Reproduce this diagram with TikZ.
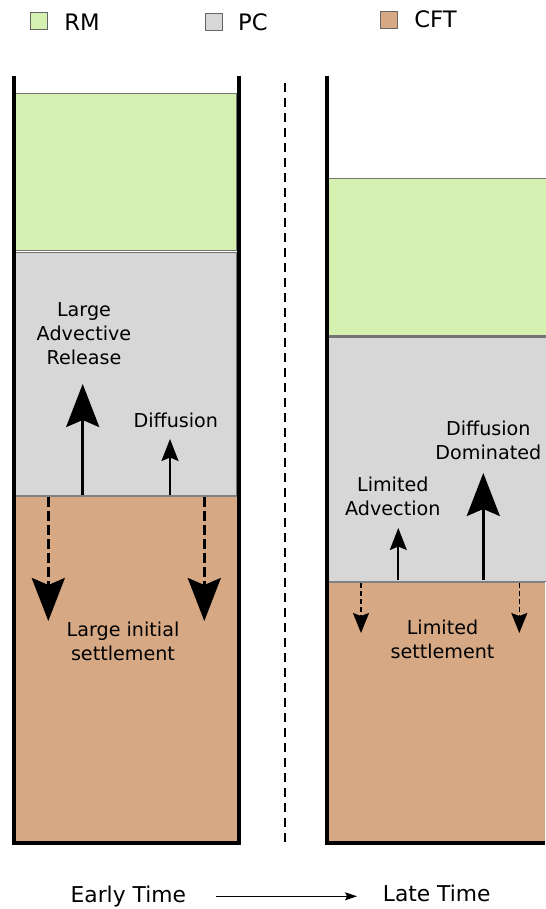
\documentclass[tikz,border=0pt]{standalone}
\usepackage{fontspec}
\setmainfont{DejaVu Sans}
\usepackage{xcolor}
\usetikzlibrary{arrows.meta}

\definecolor{rmgreen}{HTML}{D5F0B0}
\definecolor{pcgray}{HTML}{D7D7D7}
\definecolor{cftbrown}{HTML}{D6A884}

\tikzset{
  wall/.style={line width=0.08cm, line join=miter},
  layer/.style={draw=black!55, line width=0.03cm},
  iface/.style={draw=black!50, line width=0.055cm},
  bigtip/.style={-{Stealth[length=0.86cm, width=0.66cm, inset=0.14cm]}, line width=0.06cm},
  smalltip/.style={-{Stealth[length=0.44cm, width=0.34cm, inset=0.07cm]}, line width=0.04cm},
  tinytip/.style={-{Stealth[length=0.4cm, width=0.32cm, inset=0.06cm]}, line width=0.03cm},
  legbox/.style={draw=black!60, line width=0.5pt, minimum size=0.34cm, inner sep=0pt},
  legtext/.style={font=\fontsize{12.9}{15}\selectfont, inner sep=0pt, anchor=west},
  label/.style={font=\fontsize{10.9}{13.7}\selectfont, align=center, inner sep=0pt},
  timetext/.style={font=\fontsize{12.4}{15}\selectfont, inner sep=0pt},
}

\begin{document}
\begin{tikzpicture}[x=0.02cm, y=-0.02cm]
  \useasboundingbox (0,0) rectangle (545,909);
  % legend
  \node[legbox, fill=rmgreen] (keyRM) at (39,21.4) {};
  \node[legtext] (txtRM) at (64,22) {RM};
  \node[legbox, fill=pcgray] (keyPC) at (214,21.5) {};
  \node[legtext] (txtPC) at (237.8,22) {PC};
  \node[legbox, fill=cftbrown] (keyCFT) at (388.5,19.5) {};
  \node[legtext] (txtCFT) at (414,19.5) {CFT};

  % early time column
  \filldraw[layer, fill=rmgreen] (15.7,93.3) rectangle (236.7,250.5);
  \filldraw[layer, fill=pcgray] (15.7,252.3) rectangle (236.7,495.5);
  \fill[cftbrown] (15.7,495.5) rectangle (236.7,843);
  \draw[iface] (15.7,496) -- (236.7,496);
  \draw[wall] (13.7,76.5) |- (238.7,843) -- (238.7,76.5);

  % late time column
  \filldraw[layer, fill=rmgreen] (328.7,178.3) rectangle (547,335.5);
  \filldraw[layer, fill=pcgray] (328.7,337) rectangle (547,581.5);
  \fill[cftbrown] (328.7,581.5) rectangle (545,843);
  \draw[iface] (328.7,582) -- (545,582);
  \draw[wall] (326.7,76) |- (545,843);

  % divider
  \draw[line width=0.05cm, dash pattern=on 0.18cm off 0.12cm] (285,83) -- (285,842);

  % early time fluxes
  \coordinate (advBase) at (82.7,495);
  \coordinate (advTip) at (82.7,384);
  \draw[bigtip] (advBase) -- (advTip);
  \coordinate (difBase) at (170,495);
  \coordinate (difTip) at (170,439);
  \draw[smalltip] (difBase) -- (difTip);
  \foreach \x [count=\i] in {48.3,204.3} {
    \coordinate (setTop\i) at (\x,497);
    \coordinate (setTip\i) at (\x,621);
    \draw[bigtip, dash pattern=on 0.2cm off 0.08cm] (setTop\i) -- (setTip\i);
  }
  \node[label] (advEarly) at (84,333.5) {Large\\Advective\\Release};
  \node[label] (difEarly) at (175.8,420.7) {Diffusion};
  \node[label] (setEarly) at (123,641.7) {Large initial\\settlement};

  % late time fluxes
  \coordinate (advBaseL) at (398.3,580);
  \coordinate (advTipL) at (398.3,528);
  \draw[smalltip] (advBaseL) -- (advTipL);
  \coordinate (difBaseL) at (483.3,580);
  \coordinate (difTipL) at (483.3,473);
  \draw[bigtip] (difBaseL) -- (difTipL);
  \foreach \x [count=\i] in {361,519.3} {
    \coordinate (setTopL\i) at (\x,583);
    \coordinate (setTipL\i) at (\x,633);
    \draw[tinytip, dash pattern=on 0.1cm off 0.06cm] (setTopL\i) -- (setTipL\i);
  }
  \node[label] (advLate) at (392.8,496.4) {Limited\\Advection};
  \node[label] (difLate) at (488.3,440.5) {Diffusion\\Dominated};
  \node[label] (setLate) at (442.5,639.5) {Limited\\settlement};

  % time axis
  \node[timetext] (early) at (128.3,896.3) {Early Time};
  \node[timetext] (late) at (436.7,893.7) {Late Time};
  \draw[-{Stealth[length=0.24cm, width=0.16cm, inset=0.04cm]}, line width=0.02cm,
        shorten <=0.6cm, shorten >=0.51cm] (early.east) -- (early.east -| late.west);
\end{tikzpicture}
\end{document}
